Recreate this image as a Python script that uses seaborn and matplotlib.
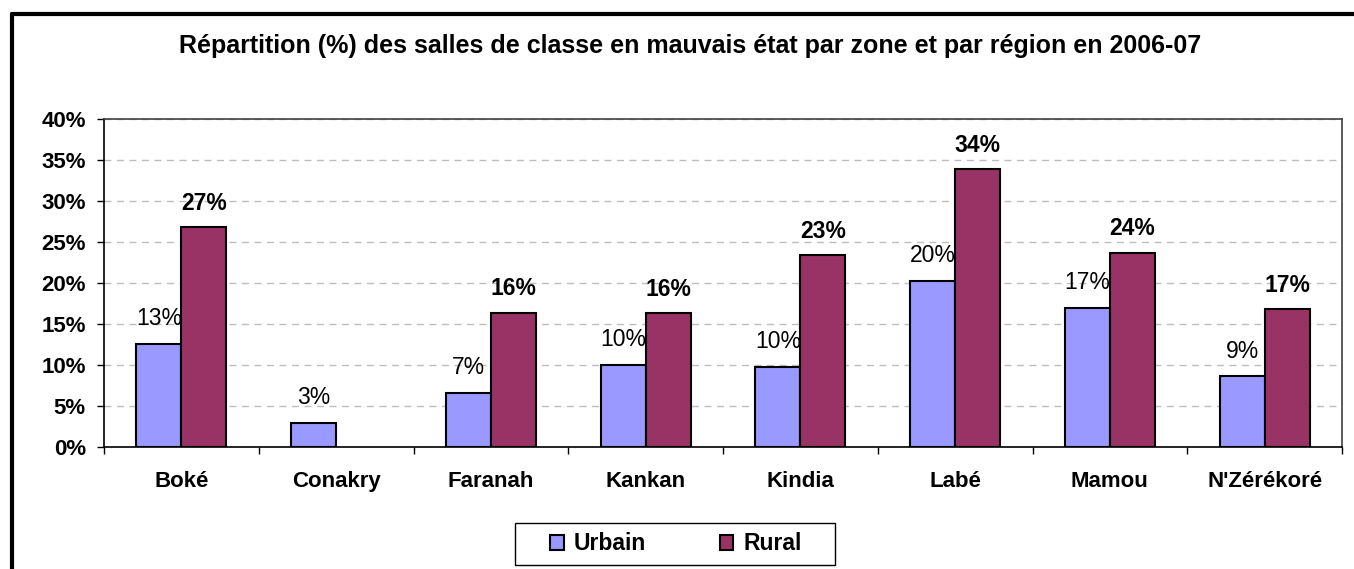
import numpy as np
import pandas as pd
import matplotlib
matplotlib.use("Agg")
import matplotlib.pyplot as plt
import seaborn as sns
from matplotlib.lines import Line2D
from matplotlib.patches import Rectangle

# data (%)
regions = ["Boké", "Conakry", "Faranah", "Kankan", "Kindia", "Labé", "Mamou", "N'Zérékoré"]
urbain = [12.6, 2.9, 6.6, 10.0, 9.8, 20.3, 17.0, 8.6]
rural = [26.8, np.nan, 16.4, 16.3, 23.4, 33.9, 23.7, 16.8]
zones = ["Urbain", "Rural"]
colors = ["#9999FF", "#993366"]
yticks = [0, 5, 10, 15, 20, 25, 30, 35, 40]

df = pd.DataFrame({
    "region": regions * 2,
    "zone": ["Urbain"] * len(regions) + ["Rural"] * len(regions),
    "pct": urbain + rural,
})

sns.set_style("white")
plt.rcParams["font.family"] = ["Liberation Sans", "DejaVu Sans"]
plt.rcParams["text.color"] = "black"
plt.rcParams["xtick.color"] = "black"
plt.rcParams["ytick.color"] = "black"
plt.rcParams["xtick.labelcolor"] = "black"
plt.rcParams["ytick.labelcolor"] = "black"

W, H = 1354, 569
fig = plt.figure(figsize=(W / 100, H / 100), dpi=100)
ax = fig.add_axes([104 / W, 1 - 447 / H, (1342 - 104) / W, (447 - 119) / H])

sns.barplot(data=df, x="region", y="pct", hue="zone", order=regions, hue_order=zones,
            palette=colors, width=0.58, gap=0, edgecolor="black", linewidth=1.5,
            errorbar=None, saturation=1, ax=ax)

# value labels: urbain normal, rural bold
for cont, weight, off in zip(ax.containers, ["normal", "bold"], [13.5, 12.5]):
    for bar in cont:
        h = bar.get_height()
        if np.isnan(h) or h == 0:
            continue
        ax.annotate(f"{h:.0f}%", (bar.get_x() + bar.get_width() / 2, h),
                    xytext=(0, off), textcoords="offset points", color="black",
                    ha="center", va="baseline", fontsize=16.5, fontweight=weight)

ax.set_ylim(0, 40)
ax.set_xlim(-0.5, len(regions) - 0.5)
ax.set_yticks(yticks)
ax.set_yticklabels([f"{t}%" for t in yticks], fontsize=16, fontweight="bold", color="black")
ax.set_xticks(range(len(regions)))
ax.set_xticklabels(regions, fontsize=16, fontweight="bold", color="black")
ax.set_xticks(np.arange(-0.5, len(regions), 1), minor=True)
ax.tick_params(axis="x", which="major", length=0, pad=17)
ax.tick_params(axis="x", which="minor", length=5, width=1, color="black", direction="out", bottom=True)
ax.tick_params(axis="y", length=5, width=1, color="black", direction="out", pad=8, left=True)
ax.set_xlabel("")
ax.set_ylabel("")

ax.yaxis.grid(True, color="#BDBDBD", linestyle=(0, (5, 4)), linewidth=1)
ax.set_axisbelow(True)
for side in ["left", "bottom"]:
    ax.spines[side].set_color("black")
    ax.spines[side].set_linewidth(1.2)
for side in ["top", "right"]:
    ax.spines[side].set_color("#404040")
    ax.spines[side].set_linewidth(1.2)

handles, labels = ax.get_legend_handles_labels()
if ax.get_legend() is not None:
    ax.get_legend().remove()
leg = fig.legend(handles, labels, loc="center", bbox_to_anchor=(676 / W, 1 - 544 / H),
                 ncol=2, frameon=False,
                 prop={"weight": "bold", "size": 16.5}, handlelength=0.6, handleheight=0.6,
                 handletextpad=0.45, columnspacing=3.2, borderpad=0.4, borderaxespad=0)
for t in leg.get_texts():
    t.set_color("black")
# legend box is wider than its contents in the reference
fig.add_artist(Rectangle((515 / W, 1 - 565 / H), 320 / W, 42 / H, transform=fig.transFigure,
                         facecolor="none", edgecolor="black", linewidth=1))

fig.text(690 / W, 1 - 53 / H, "Répartition (%) des salles de classe en mauvais état par zone et par région en 2006-07",
         ha="center", va="baseline", fontsize=18, fontweight="bold", color="black")

# outer chart frame (only top and left edges visible in the crop)
fig.add_artist(Line2D([12 / W, 1.01], [1 - 14 / H, 1 - 14 / H], transform=fig.transFigure,
                      color="black", linewidth=3))
fig.add_artist(Line2D([12 / W, 12 / W], [1 - 14 / H, -0.01], transform=fig.transFigure,
                      color="black", linewidth=3))

fig.savefig("out.png", dpi=100)
